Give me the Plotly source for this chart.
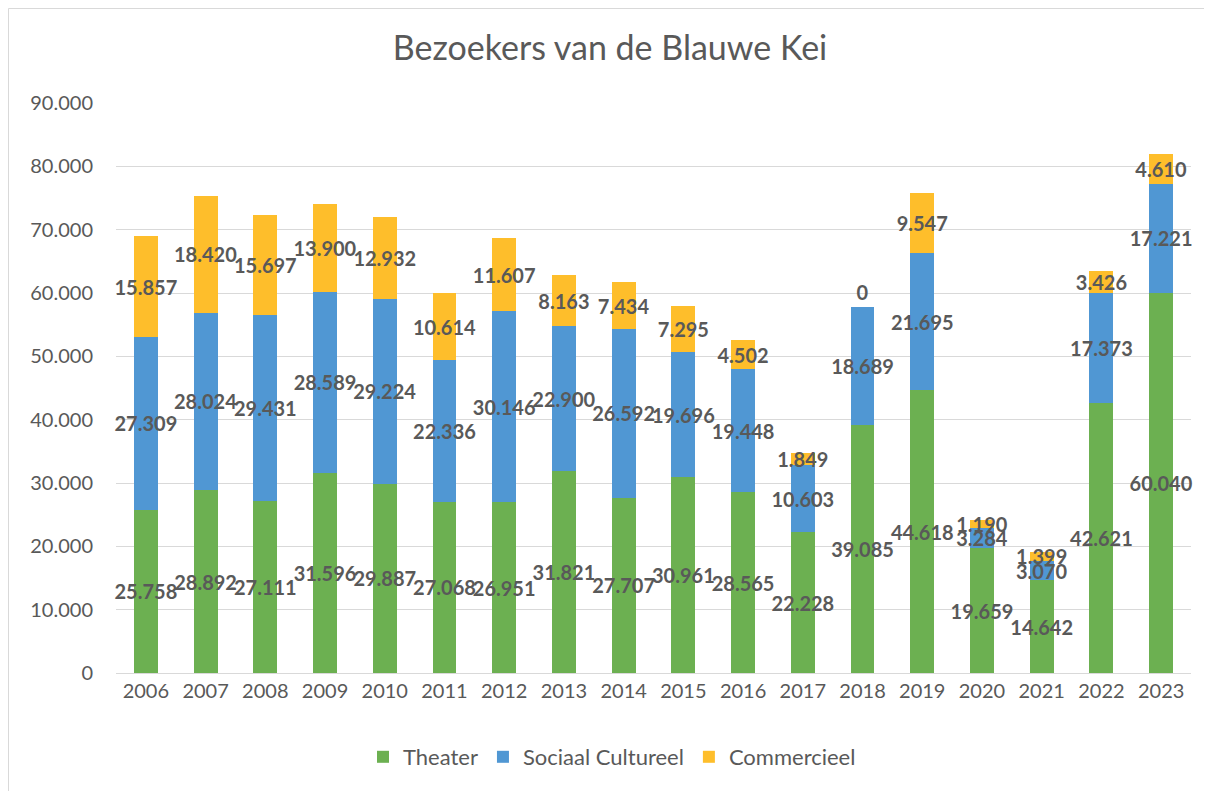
import plotly.graph_objects as go

years = ["2006", "2007", "2008", "2009", "2010", "2011", "2012", "2013", "2014",
         "2015", "2016", "2017", "2018", "2019", "2020", "2021", "2022", "2023"]
theater = [25758, 28892, 27111, 31596, 29887, 27068, 26951, 31821, 27707,
           30961, 28565, 22228, 39085, 44618, 19659, 14642, 42621, 60040]
sociaal = [27309, 28024, 29431, 28589, 29224, 22336, 30146, 22900, 26592,
           19696, 19448, 10603, 18689, 21695, 3284, 3070, 17373, 17221]
commercieel = [15857, 18420, 15697, 13900, 12932, 10614, 11607, 8163, 7434,
               7295, 4502, 1849, 0, 9547, 1190, 1399, 3426, 4610]
y_ticks = [0, 10000, 20000, 30000, 40000, 50000, 60000, 70000, 80000, 90000]
y_tick_labels = ["0", "10.000", "20.000", "30.000", "40.000", "50.000",
                 "60.000", "70.000", "80.000", "90.000"]

FONT = "Lato, 'Open Sans', sans-serif"
GRAY = "#595959"
LABEL = "#595959"

W, H = 1204, 783
ML, MR, MT, MB = 108, 21, 95, 118
PW = W - ML - MR
PH = H - MT - MB


def fmt(v):
    return f"{v:,}".replace(",", ".")


fig = go.Figure()
for name, vals, color in [("Theater", theater, "#6CB051"),
                          ("Sociaal Cultureel", sociaal, "#5097D3"),
                          ("Commercieel", commercieel, "#FEBE2B")]:
    fig.add_trace(go.Bar(
        x=years, y=vals, name=name,
        marker=dict(color=color, line=dict(width=0)),
        text=[fmt(v) for v in vals],
        textposition=["inside" if v > 0 else "outside" for v in vals],
        insidetextanchor="middle",
        constraintext="none", textangle=0,
        textfont=dict(family=FONT, size=20, color=LABEL, weight="bold"),
        cliponaxis=False,
        hoverinfo="x+y+name",
    ))

fig.update_layout(
    barmode="stack", bargap=0.6,
    width=W, height=H,
    margin=dict(l=ML, r=MR, t=MT, b=MB),
    paper_bgcolor="white", plot_bgcolor="white",
    title=dict(text="Bezoekers van de Blauwe Kei", x=0.5, xanchor="center",
               y=1 - 40 / H, yanchor="middle",
               font=dict(family=FONT, size=34, color=GRAY)),
    font=dict(family=FONT, color=GRAY),
    legend=dict(orientation="h", x=(612 - 8 - ML) / PW, xanchor="center",
                y=(PH - (749 - MT)) / PH,
                yanchor="middle", font=dict(family=FONT, size=22, color=GRAY),
                traceorder="normal", itemwidth=30),
    xaxis=dict(tickfont=dict(family=FONT, size=20, color=GRAY),
               showline=True, linecolor="#D9D9D9", linewidth=1,
               ticks="", showgrid=False),
    yaxis=dict(range=[0, 90000], tickvals=y_ticks, ticktext=y_tick_labels,
               tickfont=dict(family=FONT, size=20, color=GRAY),
               showgrid=True, gridcolor="#D9D9D9", gridwidth=1,
               zeroline=False, ticks="", showline=False, ticklabelstandoff=22),
    shapes=[dict(type="rect", xref="paper", yref="paper",
                 x0=(0.5 - ML) / PW, x1=(W + 40 - ML) / PW,
                 y0=-(MB + 40) / PH, y1=(PH + MT - 0.5) / PH,
                 line=dict(color="#D9D9D9", width=1), layer="below")],
)

fig.write_html("out.html")
